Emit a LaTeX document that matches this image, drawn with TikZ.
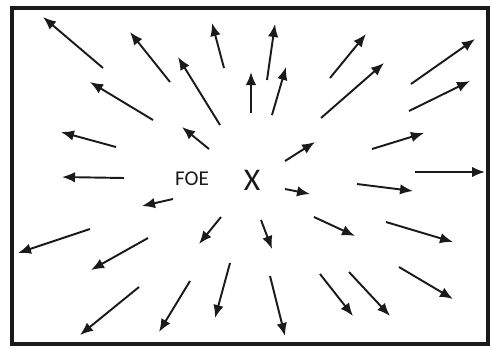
\documentclass[tikz,border=0pt]{standalone}
\usepackage{fontspec}
\setmainfont{Carlito}
\usetikzlibrary{arrows.meta}
\definecolor{ink}{HTML}{1A1A1A}
\tikzset{
  frame/.style={
    draw=ink,
    line width=2.2pt
  },
  flow/.style={
    -{Latex[length=2.6mm,width=2.1mm]},
    draw=ink,
    line width=1.1pt
  },
  foe label/.style={
    font=\fontsize{12}{14}\selectfont,
    text=ink,
    inner sep=0pt
  },
  foe mark/.style={
    font=\fontsize{18}{20}\selectfont,
    text=ink,
    inner sep=0pt
  }
}

\begin{document}
\begin{tikzpicture}[x=0.02cm,y=-0.02cm]

\useasboundingbox (0,0) rectangle (492,349);

% ---------------------------------------------------------------------------
% Frame and focus of expansion
% ---------------------------------------------------------------------------
\draw[frame] (12,8) rectangle (488,344);
\node[foe label] (foe) at (192,179) {FOE};
\node[foe mark] (cross) at (252,180) {X};

% ---------------------------------------------------------------------------
% Flow vectors, tail / head
% ---------------------------------------------------------------------------
\foreach \tail/\head in {
    {(103,68)}/{(43,17)},   {(170,82)}/{(130,32)},  {(220,125)}/{(178,57)},
    {(224,68)}/{(212,23)},  {(153,120)}/{(90,82)},  {(116,147)}/{(61,132)},
    {(209,149)}/{(182,127)},{(267,80)}/{(275,24)},  {(251,113)}/{(251,72)},
    {(272,115)}/{(286,67)}, {(330,78)}/{(366,34)},  {(321,118)}/{(384,63)},
    {(411,84)}/{(475,39)},  {(409,111)}/{(470,81)}, {(285,161)}/{(315,142)},
    {(372,149)}/{(424,133)},{(415,172)}/{(485,172)},{(124,178)}/{(62,177)},
    {(173,199)}/{(142,206)},{(90,229)}/{(18,253)},  {(148,238)}/{(91,270)},
    {(221,217)}/{(199,244)},{(139,287)}/{(80,335)}, {(190,281)}/{(159,332)},
    {(230,263)}/{(215,318)},{(285,189)}/{(310,194)},{(357,184)}/{(413,191)},
    {(261,220)}/{(272,249)},{(314,217)}/{(355,236)},{(386,222)}/{(453,242)},
    {(270,276)}/{(285,336)},{(320,274)}/{(353,316)},{(349,272)}/{(390,316)},
    {(399,267)}/{(453,299)}}
  \draw[flow] \tail -- \head;

\end{tikzpicture}
\end{document}
